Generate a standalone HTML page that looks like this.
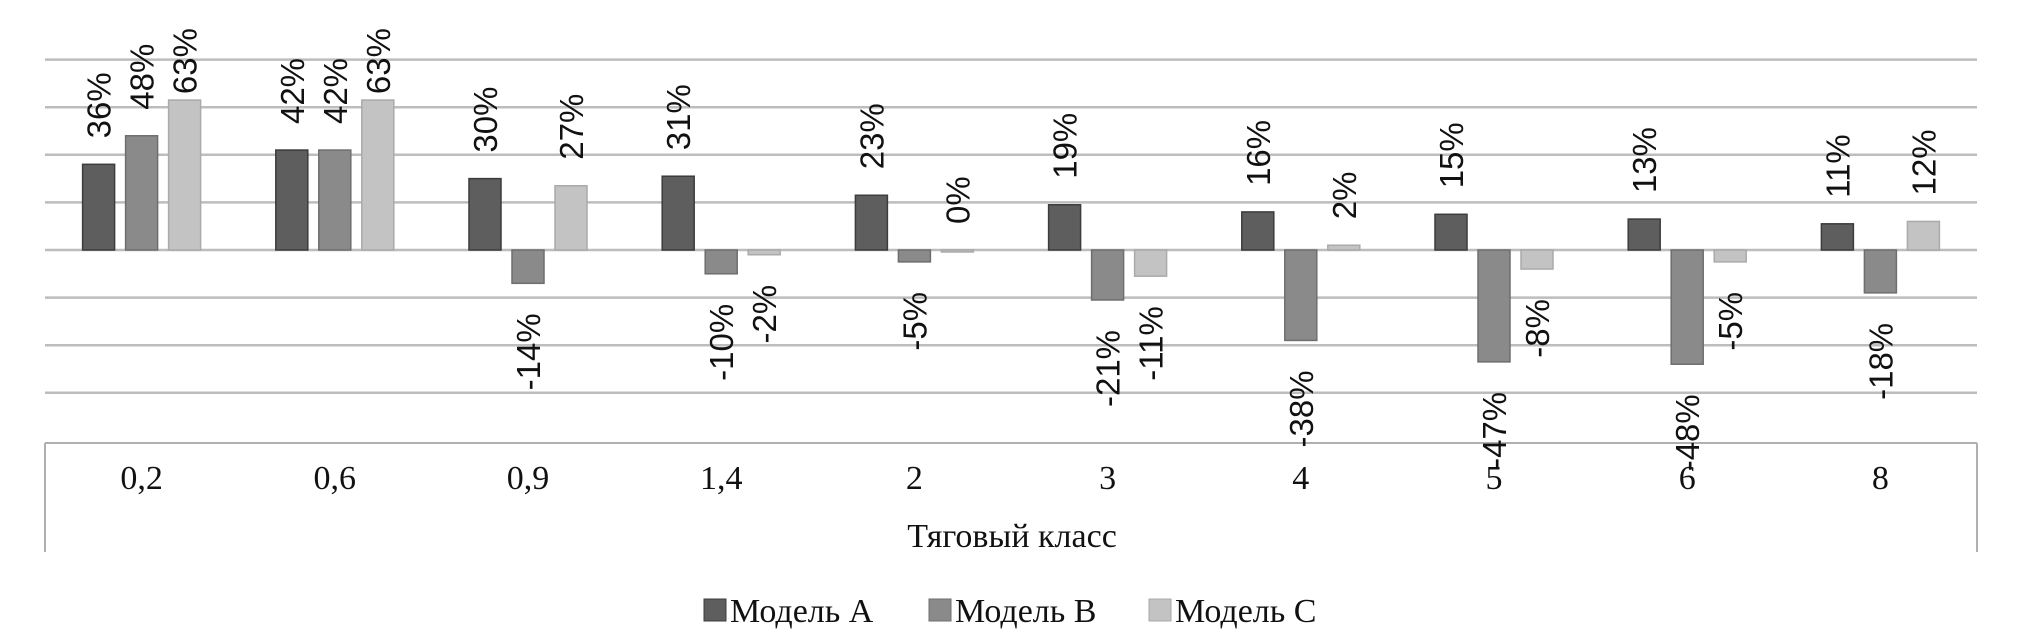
<!DOCTYPE html>
<html><head><meta charset="utf-8"><style>
html,body{margin:0;padding:0;background:#fff;}
svg{display:block;}
.lbl{font-family:"Liberation Sans",sans-serif;font-size:33px;fill:#111;}
.cat{font-family:"Liberation Serif",serif;font-size:34px;fill:#111;}
</style></head><body>
<svg id="chart" width="2020" height="639" viewBox="0 0 2020 639" xmlns="http://www.w3.org/2000/svg">
<g id="grid"></g>
<g id="axis"></g>
<g id="bars"></g>
<g id="labels"></g>
<text class="cat" x="1012" y="547" text-anchor="middle">Тяговый класс</text>
<g id="legend"></g>
</svg>
<script>
const categories = ["0,2","0,6","0,9","1,4","2","3","4","5","6","8"];
const seriesNames = ["Модель A","Модель B","Модель C"];
const modelA = [36,42,30,31,23,19,16,15,13,11];
const modelB = [48,42,-14,-10,-5,-21,-38,-47,-48,-18];
const modelC = [63,63,27,-2,0,-11,2,-8,-5,12];
const gridTicks = [80,60,40,20,0,-20,-40,-60];

const NS="http://www.w3.org/2000/svg";
const left=45, right=1977, zeroY=250, ppp=2.38;
const step=(right-left)/categories.length;
const fills=["#5e5e5e","#8a8a8a","#c3c3c3"];
const strokes=["#3c3c3c","#6e6e6e","#aaaaaa"];
function y(v){return zeroY - v*ppp;}
function xc(i){return left + step*(i+0.5);}
function mk(tag,attrs,parent){const e=document.createElementNS(NS,tag);for(const k in attrs)e.setAttribute(k,attrs[k]);parent.appendChild(e);return e;}

const grid=document.getElementById('grid');
gridTicks.forEach(t=>{
  const l=mk('line',{x1:left,x2:right,y1:y(t),y2:y(t),stroke:"#bdbdbd","stroke-width":2.5},grid);
  
  
});
const axis=document.getElementById('axis');
[[left,443,right,443],[left,443,left,552],[right,443,right,552]].forEach(p=>{
  const l=mk('line',{x1:p[0],y1:p[1],x2:p[2],y2:p[3],stroke:"#b0b0b0","stroke-width":2},axis);
  
  
});
categories.forEach((c,i)=>{
  const t=mk('text',{x:xc(i),y:489,"text-anchor":"middle",class:"cat"},axis);
  t.textContent=c;
  
  
});

const bars=document.getElementById('bars'), labels=document.getElementById('labels');
const series=[modelA,modelB,modelC];
const bw=32, off=43;
series.forEach((s,si)=>{
  s.forEach((v,i)=>{
    const cx=xc(i)+(si-1)*off;
    const y0=y(Math.max(v,0)), h=Math.max(Math.abs(v)*ppp,2);
    const r=mk('rect',{x:cx-bw/2,y:y0,width:bw,height:h,fill:fills[si],stroke:strokes[si],"stroke-width":1.5},bars);
    
    
    const txt=v+'%';
    let t;
    if(v>=0){
      const ty=y(v)-26;
      t=mk('text',{class:"lbl","text-anchor":"start"},labels);
      t.textContent=txt;
      const len=t.getComputedTextLength()||65;
      const fy=Math.max(ty,28+len);
      t.setAttribute('transform',`translate(${cx+12},${fy}) rotate(-90)`);
    } else {
      const ty=y(v)+30;
      t=mk('text',{class:"lbl",transform:`translate(${cx+12},${ty}) rotate(-90)`,"text-anchor":"end"},labels);
      t.textContent=txt;
    }
    
    
  });
});

const legend=document.getElementById('legend');
const lx=[704,929,1149];
seriesNames.forEach((n,i)=>{
  const g=mk('g',{},legend);
  
  
  mk('rect',{x:lx[i],y:599,width:22,height:22,fill:fills[i],stroke:strokes[i]},g);
  const t=mk('text',{x:lx[i]+26,y:622,class:"cat"},g);
  t.textContent=n;
});
</script>
</body></html>
